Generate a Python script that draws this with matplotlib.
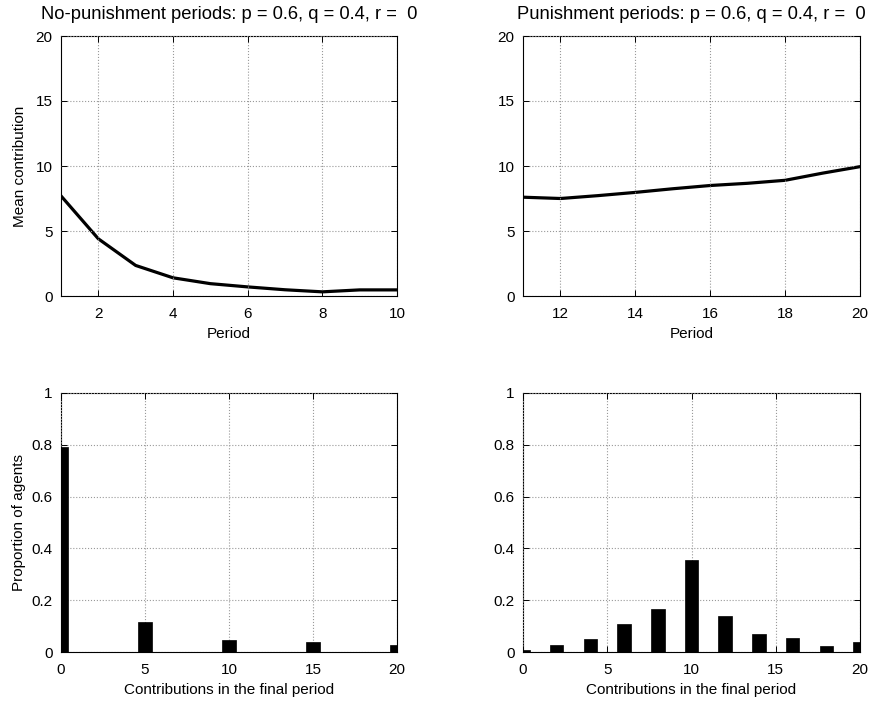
import numpy as np
import matplotlib
matplotlib.use('Agg')
import matplotlib.pyplot as plt

plt.rcParams['font.family'] = ['Liberation Sans', 'DejaVu Sans']
plt.rcParams['font.size'] = 11

# mean contribution per period
per_np = [1, 2, 3, 4, 5, 6, 7, 8, 9, 10]
mean_np = [7.7, 4.4, 2.35, 1.4, 0.95, 0.7, 0.48, 0.32, 0.47, 0.47]
per_p = [11, 12, 13, 14, 15, 16, 17, 18, 19, 20]
mean_p = [7.6, 7.5, 7.72, 7.97, 8.25, 8.5, 8.67, 8.9, 9.45, 9.95]

# final period distributions
contrib = np.arange(0, 21)
prop_np = np.zeros(21)
prop_np[[0, 5, 10, 15, 20]] = [0.79, 0.114, 0.045, 0.038, 0.026]
prop_p = np.zeros(21)
prop_p[[0, 2, 4, 6, 8, 10, 12, 14, 16, 18, 20]] = [0.008, 0.026, 0.051, 0.108, 0.167,
                                                   0.357, 0.14, 0.069, 0.054, 0.022, 0.037]

titles = ['No-punishment periods: p = 0.6, q = 0.4, r =  0',
          'Punishment periods: p = 0.6, q = 0.4, r =  0']

W, H = 872, 706
fig = plt.figure(figsize=(W/100, H/100), dpi=100)

def mk_ax(x0, y0, x1, y1):
    return fig.add_axes([x0/W, 1-y1/H, (x1-x0)/W, (y1-y0)/H])

def style(ax):
    ax.grid(True, linestyle=':', color='#999999', linewidth=0.8)
    ax.tick_params(direction='in', top=True, right=True, length=4, width=0.7)
    ax.tick_params(axis='x', pad=8)
    ax.tick_params(axis='y', pad=6)
    for s in ax.spines.values():
        s.set_linewidth(0.8)
    ax.set_axisbelow(False)

ax1 = mk_ax(61, 36, 397, 296)
ax2 = mk_ax(523, 36, 860, 296)
ax3 = mk_ax(61, 393, 397, 652)
ax4 = mk_ax(523, 393, 860, 652)

ax1.plot(per_np, mean_np, color='black', lw=2.3)
ax1.set_xlim(1, 10)
ax1.set_xticks([2, 4, 6, 8, 10])
ax1.set_ylabel('Mean contribution', labelpad=6)

ax2.plot(per_p, mean_p, color='black', lw=2.3)
ax2.set_xlim(11, 20)
ax2.set_xticks([12, 14, 16, 18, 20])

for ax, t in zip([ax1, ax2], titles):
    ax.set_ylim(0, 20)
    ax.set_yticks([0, 5, 10, 15, 20])
    ax.set_xlabel('Period', labelpad=4)
    ax.set_title(t, pad=12)
    style(ax)

for ax, p in zip([ax3, ax4], [prop_np, prop_p]):
    ax.bar(contrib, p, width=0.8, color='black', edgecolor='black', linewidth=0.5, zorder=3)
    ax.set_xlim(0, 20)
    ax.set_ylim(0, 1)
    ax.set_xticks([0, 5, 10, 15, 20])
    ax.set_yticks([0, 0.2, 0.4, 0.6, 0.8, 1])
    ax.set_yticklabels(['0', '0.2', '0.4', '0.6', '0.8', '1'])
    ax.set_xlabel('Contributions in the final period', labelpad=4)
    style(ax)

ax3.set_ylabel('Proportion of agents', labelpad=4)

fig.savefig('out.png', dpi=100)
